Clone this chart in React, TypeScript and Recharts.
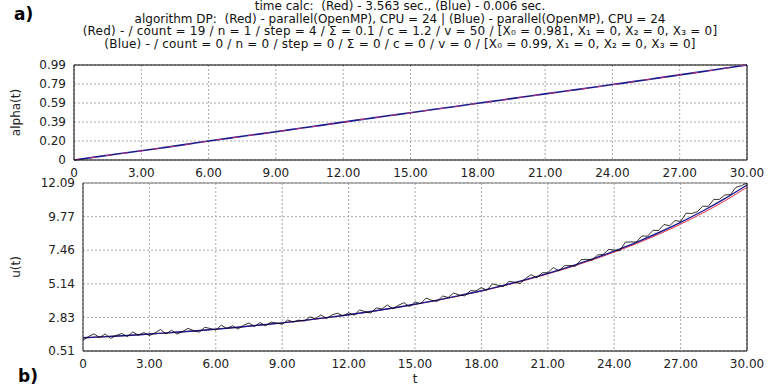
import {
  LineChart,
  Line,
  XAxis,
  YAxis,
  CartesianGrid,
  ReferenceLine,
} from "recharts";

// time grid of the smooth solutions (step 1)
const tCoarse = [
  0, 1, 2, 3, 4, 5, 6, 7, 8, 9, 10, 11, 12, 13, 14, 15, 16, 17, 18, 19, 20,
  21, 22, 23, 24, 25, 26, 27, 28, 29, 30,
];

const alphaRed = [
  0, 0.032, 0.064, 0.095, 0.128, 0.162, 0.197, 0.23, 0.262, 0.294, 0.327,
  0.36, 0.394, 0.427, 0.46, 0.492, 0.525, 0.557, 0.59, 0.622, 0.655, 0.688,
  0.72, 0.752, 0.785, 0.818, 0.852, 0.886, 0.92, 0.955, 0.99,
];
const alphaBlue = [
  0, 0.033, 0.065, 0.096, 0.129, 0.163, 0.198, 0.231, 0.263, 0.295, 0.328,
  0.361, 0.395, 0.428, 0.461, 0.493, 0.526, 0.558, 0.591, 0.623, 0.656,
  0.689, 0.721, 0.753, 0.786, 0.819, 0.853, 0.887, 0.921, 0.956, 0.99,
];

const uRed = [
  1.41, 1.49, 1.58, 1.67, 1.78, 1.89, 2.01, 2.15, 2.29, 2.45, 2.62, 2.8, 3.0,
  3.22, 3.46, 3.72, 4.0, 4.31, 4.64, 5.0, 5.39, 5.82, 6.28, 6.78, 7.32, 7.91,
  8.55, 9.25, 10.02, 10.86, 11.8,
];
const uBlue = [
  1.42, 1.5, 1.58, 1.68, 1.78, 1.89, 2.02, 2.15, 2.3, 2.45, 2.62, 2.81, 3.01,
  3.23, 3.47, 3.73, 4.02, 4.33, 4.66, 5.03, 5.43, 5.86, 6.33, 6.84, 7.4, 8.0,
  8.66, 9.38, 10.16, 11.01, 11.95,
];

// noisy realisation, sampled every 0.25
const tFine = Array.from({ length: 121 }, (_, i) => i * 0.25);
const uBlack = [
  1.25, 1.51, 1.69, 1.44, 1.68, 1.38, 1.58, 1.72, 1.5, 1.82, 1.6, 1.78,
  1.57, 1.76, 1.99, 1.69, 1.94, 1.67, 1.86, 2.07, 1.91, 1.81, 2.14, 2.06,
  1.95, 2.29, 2.06, 2.25, 2.02, 2.28, 2.44, 2.2, 2.47, 2.25, 2.5, 2.44,
  2.35, 2.65, 2.5, 2.64, 2.57, 2.86, 2.74, 3.0, 2.75, 3.0, 3.12, 2.93,
  3.14, 2.98, 3.34, 3.22, 3.12, 3.48, 3.41, 3.68, 3.42, 3.66, 3.84, 3.57,
  3.89, 3.77, 4.16, 4.0, 3.93, 4.3, 4.2, 4.51, 4.37, 4.31, 4.67, 4.65,
  4.88, 4.7, 5.14, 5.04, 4.96, 5.31, 5.25, 5.16, 5.52, 5.77, 5.56, 5.9,
  5.91, 6.26, 6.04, 6.39, 6.4, 6.35, 6.8, 6.83, 6.77, 7.13, 7.16, 7.51,
  7.47, 7.41, 8.01, 8.03, 8.02, 8.44, 8.42, 8.83, 8.81, 9.23, 9.14, 9.5,
  9.44, 10.01, 9.99, 10.1, 10.49, 10.48, 10.96, 10.96, 11.27, 11.29, 11.79,
  11.91, 12.09,
];

const xTicks = [0, 3, 6, 9, 12, 15, 18, 21, 24, 27, 30];
const alphaTicks = [0, 0.198, 0.396, 0.594, 0.792, 0.99];
const alphaTickLabels = ["0", "0.20", "0.39", "0.59", "0.79", "0.99"];
const uTicks = [0.51, 2.826, 5.142, 7.458, 9.774, 12.09];
const uTickLabels = ["0.51", "2.83", "5.14", "7.46", "9.77", "12.09"];

const titleLines = [
  "time calc:  (Red) - 3.563 sec., (Blue) - 0.006 sec.",
  "algorithm DP:  (Red) - parallel(OpenMP), CPU = 24 | (Blue) - parallel(OpenMP), CPU = 24",
  "(Red) - / count = 19 / n = 1 / step = 4 / Σ = 0.1 / c = 1.2 / v = 50 / [X₀ = 0.981, X₁ = 0, X₂ = 0, X₃ = 0]",
  "(Blue) - / count = 0 / n = 0 / step = 0 / Σ = 0 / c = 0 / v = 0 / [X₀ = 0.99, X₁ = 0, X₂ = 0, X₃ = 0]",
];

const FONT = "DejaVu Sans, sans-serif";
const tickStyle = { fontSize: 12, fill: "#222", fontFamily: FONT };
const fmtX = (v: number) => (v === 0 ? "0" : v.toFixed(2));

const alphaRedData = tCoarse.map((t, i) => ({ t, v: alphaRed[i] }));
const alphaBlueData = tCoarse.map((t, i) => ({ t, v: alphaBlue[i] }));
const uRedData = tCoarse.map((t, i) => ({ t, v: uRed[i] }));
const uBlueData = tCoarse.map((t, i) => ({ t, v: uBlue[i] }));
const uBlackData = tFine.map((t, i) => ({ t, v: uBlack[i] }));

const App = () => {
  return (
    <div
      style={{
        position: "absolute",
        left: 0,
        top: 0,
        width: 783,
        height: 387,
        background: "#fff",
        fontFamily: FONT,
      }}
    >
      <div
        style={{
          position: "absolute",
          left: 0,
          top: 0,
          width: 800,
          textAlign: "center",
          fontSize: 12,
          lineHeight: "12.7px",
          color: "#111",
          whiteSpace: "pre",
        }}
      >
        {titleLines.map((l, i) => (
          <div key={l} style={{ letterSpacing: i >= 2 ? 0.2 : 0 }}>
            {l}
          </div>
        ))}
      </div>
      <div
        style={{
          position: "absolute",
          left: 14,
          top: 4,
          fontSize: 17,
          fontWeight: "bold",
        }}
      >
        a)
      </div>
      <div
        style={{
          position: "absolute",
          left: 18,
          top: 366,
          fontSize: 17,
          fontWeight: "bold",
        }}
      >
        b)
      </div>

      <div style={{ position: "absolute", left: 0, top: 0 }}>
        <LineChart
          width={783}
          height={180}
          margin={{ top: 65, right: 36, left: 0, bottom: 0 }}
        >
          <CartesianGrid stroke="#aaa" strokeDasharray="2 2" />
          <XAxis
            dataKey="t"
            type="number"
            domain={[0, 30]}
            ticks={xTicks}
            interval={0}
            tickFormatter={fmtX}
            tickLine={false}
            axisLine={{ stroke: "#000" }}
            tick={tickStyle}
            height={20}
            allowDataOverflow
          />
          <YAxis
            type="number"
            domain={[0, 0.99]}
            ticks={alphaTicks}
            interval={0}
            tickFormatter={(v: number) => alphaTickLabels[alphaTicks.indexOf(v)]}
            tickLine={false}
            axisLine={{ stroke: "#000" }}
            tick={tickStyle}
            width={74}
            label={{
              value: "alpha(t)",
              angle: -90,
              position: "insideLeft",
              offset: 16,
              style: { textAnchor: "middle", fontSize: 12, fill: "#222" },
            }}
          />
          <ReferenceLine y={0.99} stroke="#000" />
          <ReferenceLine x={30} stroke="#000" />
          <Line
            data={alphaBlueData}
            dataKey="v"
            type="monotone"
            stroke="#1a1a8c"
            strokeWidth={1.6}
            dot={false}
            isAnimationActive={false}
          />
          <Line
            data={alphaRedData}
            dataKey="v"
            type="monotone"
            stroke="#c0307a"
            strokeWidth={1}
            strokeDasharray="6 10"
            dot={false}
            isAnimationActive={false}
          />
        </LineChart>
      </div>

      <div style={{ position: "absolute", left: 0, top: 170 }}>
        <LineChart
          width={783}
          height={217}
          margin={{ top: 13, right: 36, left: 0, bottom: 0 }}
        >
          <CartesianGrid stroke="#aaa" strokeDasharray="2 2" />
          <XAxis
            dataKey="t"
            type="number"
            domain={[0, 30]}
            ticks={xTicks}
            interval={0}
            tickFormatter={fmtX}
            tickLine={false}
            axisLine={{ stroke: "#000" }}
            tick={tickStyle}
            height={36}
            label={{
              value: "t",
              position: "insideBottom",
              offset: 4,
              style: { fontSize: 12, fill: "#222" },
            }}
          />
          <YAxis
            type="number"
            domain={[0.51, 12.09]}
            ticks={uTicks}
            interval={0}
            tickFormatter={(v: number) => uTickLabels[uTicks.indexOf(v)]}
            tickLine={false}
            axisLine={{ stroke: "#222" }}
            tick={tickStyle}
            width={83}
            allowDataOverflow
            label={{
              value: "u(t)",
              angle: -90,
              position: "insideLeft",
              offset: 16,
              style: { textAnchor: "middle", fontSize: 12, fill: "#222" },
            }}
          />
          <ReferenceLine y={12.09} stroke="#777" />
          <ReferenceLine x={30} stroke="#000" />
          <Line
            data={uRedData}
            dataKey="v"
            type="monotone"
            stroke="#e0304a"
            strokeWidth={1}
            dot={false}
            isAnimationActive={false}
          />
          <Line
            data={uBlueData}
            dataKey="v"
            type="monotone"
            stroke="#1a1a8c"
            strokeWidth={1.4}
            dot={false}
            isAnimationActive={false}
          />
          <Line
            data={uBlackData}
            dataKey="v"
            type="linear"
            stroke="#000"
            strokeWidth={0.8}
            dot={false}
            isAnimationActive={false}
          />
        </LineChart>
      </div>
    </div>
  );
};

export default App;
